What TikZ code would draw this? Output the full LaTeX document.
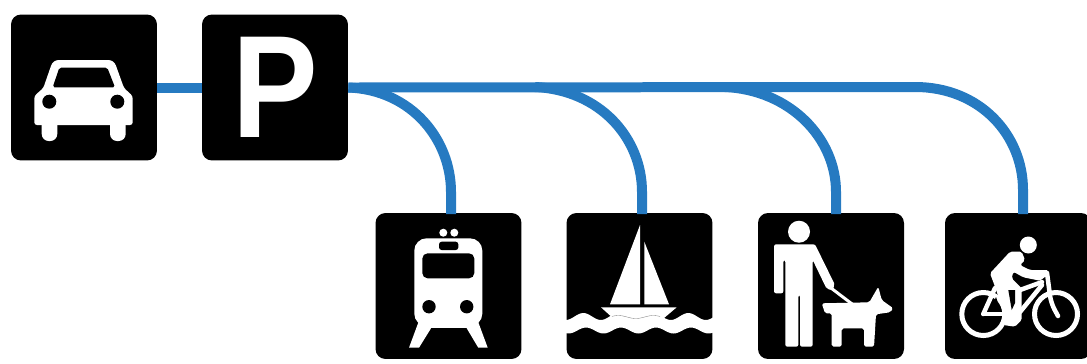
\documentclass[tikz,border=0pt]{standalone}
\usepackage{graphicx}
\usepackage{fontspec}
\setmainfont{Liberation Sans}
\usepackage{xcolor}
\definecolor{linkblue}{RGB}{38,122,193}
\begin{document}
\begin{tikzpicture}[
  x=0.02cm,y=-0.02cm,
  signbox/.style={fill=black,rounded corners=0.2cm,minimum size=2.92cm,inner sep=0pt},
  link/.style={draw=linkblue,line width=0.2cm},
  glyph/.style={fill=white,draw=none},
  cutout/.style={fill=black,draw=none},
  tube/.style={draw=white,line width=0.09cm,line cap=round,line join=round},
  wheel/.style={draw=white,line width=0.1cm}
]
  \useasboundingbox (0,0) rectangle (1087,363);
  \clip (0,0) rectangle (1087,363);

  \node[signbox] (car) at (84,87.5) {};
  \node[signbox,text=white,font=\fontsize{83}{83}\selectfont\bfseries] (parking) at (275,87.5) {\scalebox{.88}[1]{P}};
  \node[signbox] (train) at (448.5,286) {};
  \node[signbox] (boat) at (639.5,286) {};
  \node[signbox] (walker) at (831,286) {};
  \node[signbox] (bike) at (1018,286) {};

  \coordinate (trainin) at (451,214);
  \coordinate (boatin) at (642,214);
  \coordinate (walkerin) at (836,214);
  \coordinate (bikein) at (1023,214);
  \coordinate (boatfork) at (535,87);
  \coordinate (walkerfork) at (725,87);
  \coordinate (bikefork) at (915,87);

  \draw[link] (car.east) -- (parking.west);
  \draw[link] (parking.east) -- (bikefork) .. controls (980,87) and (1023,135) .. (1023,190) -- (bikein);
  \draw[link] (parking.east) .. controls (412,90) and (451,140) .. (451,192) -- (trainin);
  \draw[link] (boatfork) .. controls (600,90) and (642,138) .. (642,192) -- (boatin);
  \draw[link] (walkerfork) .. controls (790,90) and (836,138) .. (836,192) -- (walkerin);

  \fill[glyph,rounded corners=1.5pt] (34.3,125) -- (34.3,96) -- (43.3,88) -- (52,63) -- (56,60)
    -- (111,60) -- (115,63) -- (124,88) -- (132.7,96) -- (132.7,125) -- cycle;
  \fill[glyph,rounded corners=4pt] (41.7,115) rectangle (57.3,141);
  \fill[glyph,rounded corners=4pt] (110,115) rectangle (125.7,141);
  \fill[cutout,rounded corners=1pt] (59.3,67.7) -- (107.3,67.7) -- (115,87.3) -- (52.7,87.3) -- cycle;
  \fill[cutout] (49.3,101.7) circle (7);
  \fill[cutout] (117.3,101.7) circle (7);

  \fill[glyph] (443.3,232.7) circle (4);
  \fill[glyph] (454.3,232.7) circle (4);
  \fill[glyph,rounded corners=7pt] (414.3,326) -- (414.3,238.3) -- (482.3,238.3) -- (482.3,326) -- cycle;
  \fill[glyph] (425,318) rectangle (472,328.3);
  \fill[glyph] (420,318) -- (431,328.3) -- (419,347.7) -- (409,347.7) -- cycle;
  \fill[glyph] (476.7,318) -- (466.7,328.3) -- (478.3,347.7) -- (487.7,347.7) -- cycle;
  \fill[cutout,rounded corners=1.5pt] (439,241.7) rectangle (458.3,250);
  \fill[cutout,rounded corners=3pt] (422.3,253.3) rectangle (474.3,278.3);
  \fill[cutout] (429,306.7) circle (6.7);
  \fill[cutout] (466.7,306.7) circle (6.7);

  \fill[glyph] (640,225) -- (640,304.3) -- (610,304.3) -- cycle;
  \fill[glyph] (644.3,241.7) -- (669,304.3) -- (644.3,304.3) -- cycle;
  \fill[glyph] (601,307.3) -- (676.7,307.3) -- (661.7,320) -- (615,320) -- cycle;
  \fill[glyph] plot[domain=555:725,samples=80] (\x,{316.5-3.5*cos(10.2857*(\x-583.3))})
    -- plot[domain=725:555,samples=80] (\x,{330.5-3*cos(10.2857*(\x-586))}) -- cycle;
  \draw[gray,line width=0.2pt] plot[domain=612:660,samples=30] (\x,{317-1.5*cos(10.2857*(\x-583.3))});

  \fill[glyph] (799,231.7) circle (11);
  \fill[glyph,rounded corners=1.2pt] (774,293.3) -- (774,244.3) -- (815,244.3) -- (835,285) -- (832,290)
    -- (826.7,289) -- (812.7,260) -- (812.7,346.7) -- (800,346.7) -- (800,295) -- (798.3,295)
    -- (798.3,346.7) -- (785.3,346.7) -- (785.3,260) -- (783.3,260) -- (783.3,293.3) -- cycle;
  \fill[glyph,rounded corners=1pt] (821.7,303.3) -- (869.3,302.3) -- (878.3,286.7) -- (881.7,300)
    -- (893.3,308.3) -- (890,312.3) -- (876,314.3) -- (874,346.7) -- (864,346.7) -- (864,328.3)
    -- (841.7,328.3) -- (841.7,346.7) -- (831.7,346.7) -- (831.7,313.3) -- (825,313.3) -- cycle;
  \draw[tube,line width=0.06cm] (831,288) -- (860,310);

  \draw[wheel] (983.3,314) circle (21.5);
  \draw[wheel] (1056,314) circle (21.5);
  \fill[glyph] (1028.3,245) circle (8.5);
  \fill[glyph,rounded corners=1pt] (990,273.3) -- (1010,251.7) -- (1021.7,251.7) -- (1025,260)
    -- (1020,265) -- (1030,270) -- (1048.3,270) -- (1048.3,274.3) -- (1040,280.7) -- (1023.3,277.3)
    -- (1013.3,271.7) -- (1011.7,278.3) -- (1021.7,288.3) -- (1021.7,320) -- (1015,326.7)
    -- (1003.3,325) -- (1003.3,311.7) -- (995,286.7) -- cycle;
  \draw[tube] (983.3,314) -- (995,288);
  \draw[tube] (983.3,314) -- (1005,314);
  \draw[tube] (1020,290) -- (1042,282);
  \draw[tube] (1020,312) -- (1042,285);
  \draw[tube,rounded corners=4pt] (1047,273) -- (1051,303) -- (1058,316);
  \fill[cutout] (1008.3,290) -- (1015,290) -- (1015,303) -- (1011.7,310) -- cycle;
  \fill[cutout] (996,297) -- (1000.5,310) -- (990.5,310) -- cycle;
\end{tikzpicture}
\end{document}
